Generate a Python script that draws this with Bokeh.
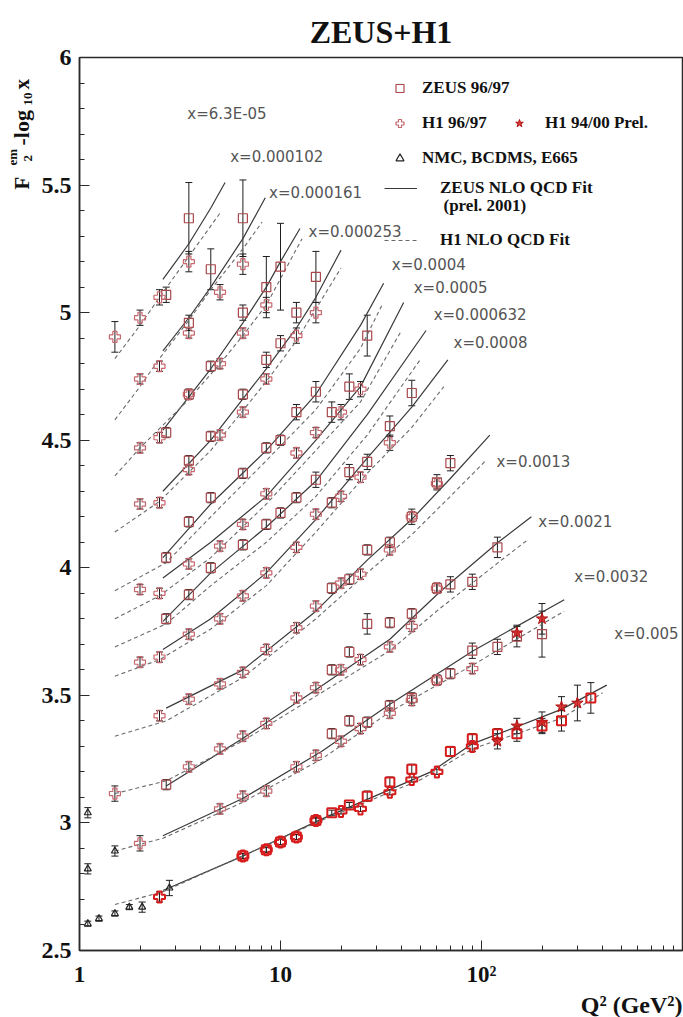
import math
from bokeh.plotting import figure
from bokeh.layouts import row
from bokeh.models import (ColumnDataSource, FixedTicker, Whisker, TeeHead, Label,
                          Legend, LegendItem, Range1d, Title)
from bokeh.embed import file_html
from bokeh.resources import INLINE

# ---------------- data ----------------
bin_labels = ["x=6.3E-05", "x=0.000102", "x=0.000161", "x=0.000253", "x=0.0004", "x=0.0005",
              "x=0.000632", "x=0.0008", "x=0.0013", "x=0.0021", "x=0.0032", "x=0.005"]
label_q2 = [3.44, 5.62, 8.77, 13.8, 35.8, 46.0, 57.8, 72.6, 118.7, 191.8, 289.5, 457]
label_f2 = [5.78, 5.61, 5.47, 5.316, 5.187, 5.097, 4.99, 4.88, 4.416, 4.178, 3.963, 3.74]

# ZEUS 96/97 (per x bin)
zeus_q2 = [
    [2.7, 3.5],
    [3.5, 4.5, 6.5],
    [2.7, 3.5, 4.5, 6.5, 8.5, 10],
    [3.5, 4.5, 6.5, 8.5, 10, 12, 15],
    [2.7, 3.5, 4.5, 6.5, 8.5, 10, 12, 15, 27],
    [18, 22],
    [2.7, 3.5, 4.5, 6.5, 8.5, 10, 12, 15],
    [18, 22, 27, 35, 45],
    [18, 22, 27, 35, 45, 60, 70],
    [2.7, 18, 22, 27, 35, 45, 60, 70, 90, 120],
    [18, 22, 27, 35, 45, 60, 70, 90, 120, 150, 200],
    [6.5, 8.5, 10, 12, 15, 18, 22, 27, 35, 45, 70, 90, 120, 150, 200, 250, 350],
]
zeus_f2 = [
    [5.07, 5.37],
    [4.96, 5.17, 5.37],
    [4.53, 4.68, 4.79, 5.00, 5.10, 5.18],
    [4.42, 4.515, 4.68, 4.815, 4.88, 5.00, 5.14],
    [4.04, 4.18, 4.275, 4.37, 4.47, 4.50, 4.61, 4.69, 4.91],
    [4.61, 4.71],
    [3.80, 3.895, 4.00, 4.09, 4.17, 4.215, 4.275, 4.345],
    [4.255, 4.375, 4.415, 4.555, 4.685],
    [3.92, 3.955, 4.07, 4.10, 4.20, 4.335, 4.41],
    [3.15, 3.60, 3.67, 3.78, 3.785, 3.82, 3.92, 3.935, 3.945, 4.08],
    [3.35, 3.40, 3.395, 3.46, 3.49, 3.56, 3.585, 3.675, 3.69, 3.73, 3.74],
    [2.87, 2.895, 2.925, 2.945, 3.01, 3.04, 3.07, 3.105, 3.16, 3.21, 3.28, 3.33, 3.35, 3.35, 3.38, 3.40, 3.49],
]
zeus_err = [
    [0.03, 0.14],
    [0.03, 0.08, 0.15],
    [0.02, 0.02, 0.02, 0.03, 0.12, 0.17],
    [0.02, 0.02, 0.02, 0.03, 0.03, 0.04, 0.10],
    [0.02, 0.02, 0.02, 0.02, 0.02, 0.02, 0.03, 0.04, 0.08],
    [0.04, 0.05],
    [0.02, 0.02, 0.02, 0.02, 0.02, 0.02, 0.02, 0.03],
    [0.02, 0.03, 0.03, 0.04, 0.05],
    [0.02, 0.02, 0.02, 0.02, 0.03, 0.03, 0.03],
    [0.02, 0.02, 0.02, 0.04, 0.02, 0.02, 0.02, 0.03, 0.03, 0.04],
    [0.02, 0.02, 0.02, 0.02, 0.02, 0.02, 0.02, 0.03, 0.03, 0.04, 0.09],
    [0.01, 0.01, 0.01, 0.01, 0.01, 0.01, 0.01, 0.02, 0.02, 0.02, 0.02, 0.02, 0.02, 0.03, 0.03, 0.04, 0.06],
]

# H1 96/97
h1_q2 = [
    [1.5, 2, 2.5, 3.5],
    [2, 2.5, 3.5, 5, 6.5],
    [2, 2.5, 3.5, 5, 6.5, 8.5],
    [2, 2.5, 3.5, 5, 6.5, 8.5, 12, 15],
    [],
    [2, 2.5, 3.5, 5, 6.5, 8.5, 12, 15, 20, 25],
    [],
    [2, 2.5, 3.5, 5, 6.5, 8.5, 12, 15, 20, 25, 35],
    [2.5, 3.5, 5, 6.5, 8.5, 12, 15, 20, 25, 35, 45, 60],
    [1.5, 3.5, 5, 6.5, 8.5, 12, 15, 20, 25, 35, 45, 60],
    [2, 5, 6.5, 8.5, 12, 15, 20, 25, 35, 45, 60, 90],
    [2.5, 6.5, 8.5, 10, 12, 15, 20, 25, 35, 45, 60, 90],
]
h1_f2 = [
    [4.905, 4.98, 5.06, 5.20],
    [4.74, 4.79, 4.92, 5.08, 5.19],
    [4.47, 4.51, 4.68, 4.80, 4.92, 5.03],
    [4.25, 4.255, 4.385, 4.52, 4.61, 4.74, 4.91, 5.00],
    [],
    [3.915, 3.90, 4.015, 4.085, 4.17, 4.29, 4.45, 4.53, 4.61, 4.70],
    [],
    [3.63, 3.65, 3.74, 3.80, 3.89, 3.98, 4.08, 4.21, 4.28, 4.355, 4.49],
    [3.42, 3.485, 3.545, 3.59, 3.68, 3.765, 3.85, 3.94, 3.975, 4.07, 4.20, 4.33],
    [3.115, 3.22, 3.29, 3.34, 3.39, 3.49, 3.53, 3.60, 3.64, 3.69, 3.77, 3.92],
    [2.92, 3.055, 3.105, 3.125, 3.22, 3.265, 3.32, 3.37, 3.43, 3.48, 3.56, 3.605],
    [2.71, 2.87, 2.895, 2.925, 2.945, 3.01, 3.045, 3.055, 3.12, 3.17, 3.20, 3.30],
]
h1_err = [
    [0.06, 0.03, 0.03, 0.04],
    [0.02, 0.02, 0.02, 0.03, 0.04],
    [0.02] * 5 + [0.03],
    [0.02] * 6 + [0.03, 0.04],
    [],
    [0.02] * 8 + [0.03, 0.03],
    [],
    [0.02] * 10 + [0.03],
    [0.02] * 12,
    [0.03] + [0.02] * 11,
    [0.03] + [0.02] * 11,
    [0.02] + [0.01] * 10 + [0.02],
]

# H1 94/00 Prel. (x=0.0032 and x=0.005)
h1new_q2 = [150, 200, 120, 150, 200, 250, 300]
h1new_f2 = [3.745, 3.80, 3.32, 3.38, 3.395, 3.455, 3.47]
h1new_err = [0.03, 0.06, 0.03, 0.03, 0.04, 0.04, 0.07]

# NMC, BCDMS, E665
nmc_q2 = [1.1, 1.1, 1.5, 1.1, 1.25, 1.5, 1.77, 2.05, 2.8]
nmc_f2 = [3.04, 2.82, 2.89, 2.605, 2.625, 2.645, 2.67, 2.67, 2.745]
nmc_err = [0.02, 0.02, 0.02, 0.01, 0.01, 0.01, 0.01, 0.02, 0.03]

# ZEUS NLO QCD fit (solid) and H1 NLO QCD fit (dashed)
zfit_q2 = [
    [2.6, 3.5, 4.5, 5.3],
    [2.6, 3.5, 4.5, 6.5, 8.4],
    [2.6, 4.5, 6.5, 8.5, 10, 12.5],
    [2.6, 4.5, 8.5, 12, 15, 20],
    [2.6, 4.5, 8.5, 15, 25, 32.6],
    [2.6, 4.5, 8.5, 15, 25, 41],
    [2.6, 4.5, 8.5, 15, 27, 53],
    [2.6, 4.5, 8.5, 15, 27, 45, 68],
    [2.7, 6.5, 15, 27, 45, 70, 110],
    [2.7, 6.45, 15.2, 35, 62, 121, 177],
    [2.6, 6.45, 16, 35, 91, 258],
    [2.6, 6.5, 16, 56, 90, 250, 420],
]
zfit_f2 = [
    [5.13, 5.27, 5.41, 5.51],
    [4.85, 4.98, 5.10, 5.29, 5.45],
    [4.54, 4.78, 4.96, 5.10, 5.20, 5.33],
    [4.30, 4.50, 4.78, 4.94, 5.06, 5.245],
    [4.04, 4.25, 4.46, 4.68, 4.95, 5.115],
    [3.96, 4.10, 4.28, 4.50, 4.71, 5.04],
    [3.79, 3.98, 4.16, 4.34, 4.60, 4.93],
    [3.68, 3.80, 3.98, 4.19, 4.43, 4.63, 4.815],
    [3.45, 3.60, 3.83, 4.03, 4.19, 4.35, 4.52],
    [3.145, 3.33, 3.525, 3.72, 3.905, 4.10, 4.20],
    [2.95, 3.095, 3.28, 3.465, 3.675, 3.875],
    [2.735, 2.87, 3.015, 3.20, 3.31, 3.445, 3.54],
]
hfit_q2 = [
    [1.5, 2, 2.5, 3.5, 5],
    [1.5, 2, 2.5, 3.5, 4.5, 6.5, 8.1],
    [1.5, 2, 3.5, 5, 6.5, 8.5, 12.8],
    [1.5, 2.5, 4.5, 8.5, 12, 20],
    [1.5, 2.7, 4.5, 8.5, 15, 25, 32],
    [1.5, 2.5, 4.5, 8.5, 15, 25, 40],
    [1.5, 2.7, 4.5, 8.5, 15, 27, 50],
    [1.5, 2.5, 4.5, 8.5, 15, 27, 45, 65],
    [1.5, 2.7, 6.5, 15, 27, 45, 70, 105],
    [1.5, 2.7, 6.45, 15.2, 35, 62, 121, 170],
    [1.5, 2.6, 6.45, 16, 35, 91, 258],
    [1.5, 2.6, 16, 50, 90, 250, 400],
]
hfit_f2 = [
    [4.82, 4.95, 5.06, 5.22, 5.39],
    [4.58, 4.71, 4.82, 4.97, 5.09, 5.25, 5.355],
    [4.36, 4.47, 4.66, 4.80, 4.91, 5.03, 5.29],
    [4.14, 4.26, 4.46, 4.73, 4.89, 5.175],
    [3.91, 4.02, 4.20, 4.42, 4.62, 4.86, 5.03],
    [3.80, 3.89, 4.04, 4.25, 4.46, 4.65, 4.93],
    [3.69, 3.78, 3.93, 4.10, 4.28, 4.52, 4.82],
    [3.575, 3.64, 3.76, 3.93, 4.14, 4.37, 4.55, 4.71],
    [3.34, 3.40, 3.57, 3.80, 3.98, 4.13, 4.28, 4.42],
    [3.115, 3.165, 3.32, 3.50, 3.675, 3.84, 4.02, 4.11],
    [2.89, 2.94, 3.08, 3.25, 3.435, 3.62, 3.83],
    [2.68, 2.73, 3.01, 3.17, 3.29, 3.41, 3.51],
]

x_ticks = [1, 10, 100]
x_tick_labels = ["1", "10", "10\u00b2"]
y_ticks = [2.5, 3, 3.5, 4, 4.5, 5, 5.5, 6]
y_tick_labels = ["2.5", "3", "3.5", "4", "4.5", "5", "5.5", "6"]

# ---------------- styles ----------------
SERIF = "Liberation Serif"
ZEUS_COL = "#a9484c"
H1_COL = "#c7686e"
RED = "#d61c1c"
ERR_COL = "#1e1e1e"
STRIP_W = 38


def flatten(qs, ys, es, pick):
    q, y, lo, up = [], [], [], []
    for i, (bq, by, be) in enumerate(zip(qs, ys, es)):
        if not pick(i + 1):
            continue
        for a, b, c in zip(bq, by, be):
            q.append(a); y.append(b); lo.append(b - c); up.append(b + c)
    return ColumnDataSource(dict(q=q, y=y, lo=lo, up=up))


p = figure(width=683 - STRIP_W, height=1017, x_axis_type="log",
           x_range=Range1d(1, 1000), y_range=Range1d(2.5, 6),
           output_backend="svg", toolbar_location=None,
           min_border_left=77 - STRIP_W, min_border_right=1, min_border_top=57,
           min_border_bottom=65)
p.background_fill_color = "white"
p.border_fill_color = "white"
p.grid.visible = False
p.outline_line_color = "#2a2a2a"
p.outline_line_width = 1.5

p.title.text = "ZEUS+H1"
p.title.align = "center"
p.title.text_font = SERIF
p.title.text_font_style = "bold"
p.title.text_font_size = "32px"
p.title.text_color = "#111111"
p.title.standoff = 15

# axes
for ax in (p.xaxis[0], p.yaxis[0]):
    ax.axis_label = None
    ax.axis_line_color = "#2a2a2a"
    ax.axis_line_width = 1.5
    ax.major_tick_in = 10
    ax.major_tick_out = 0
    ax.minor_tick_in = 5
    ax.minor_tick_out = 0
    ax.major_tick_line_color = "#2a2a2a"
    ax.minor_tick_line_color = "#2a2a2a"
    ax.major_label_text_font = SERIF
    ax.major_label_text_font_style = "bold"
    ax.major_label_text_color = "#111111"

minor_x = [m * d for d in (1, 10, 100) for m in range(2, 10)]
p.xaxis[0].ticker = FixedTicker(ticks=x_ticks, minor_ticks=minor_x)
p.xaxis[0].major_label_overrides = {t: s for t, s in zip(x_ticks, x_tick_labels)}
p.xaxis[0].major_label_text_font_size = "23px"
p.xaxis[0].major_label_standoff = 11

minor_y = [round(2.5 + 0.1 * i, 2) for i in range(36)]
p.yaxis[0].ticker = FixedTicker(ticks=y_ticks, minor_ticks=minor_y)
p.yaxis[0].major_label_overrides = {float(t): s for t, s in zip(y_ticks, y_tick_labels)}
p.yaxis[0].major_label_text_font_size = "24px"
p.yaxis[0].major_label_standoff = 8

# x axis title at the lower right, below the tick labels
p.add_layout(Title(text="Q\u00b2 (GeV\u00b2)", align="right", text_font=SERIF,
                   text_font_style="bold", text_font_size="24px",
                   text_color="#111111", standoff=0), "below")

# fit curves
zfit_r = p.multi_line(xs=zfit_q2, ys=zfit_f2, line_color="#3a3a3a", line_width=1.2)
hfit_r = p.multi_line(xs=hfit_q2, ys=hfit_f2, line_color="#6a6a6a", line_width=1.1,
                      line_dash="4 3")


# error bars
def add_err(src, width):
    p.add_layout(Whisker(source=src, base="q", lower="lo", upper="up", dimension="height",
                         line_color=ERR_COL, line_width=width,
                         upper_head=TeeHead(size=7, line_color=ERR_COL, line_width=width),
                         lower_head=TeeHead(size=7, line_color=ERR_COL, line_width=width)))


zeus_main = flatten(zeus_q2, zeus_f2, zeus_err, lambda b: b != 12)
zeus_low = flatten(zeus_q2, zeus_f2, zeus_err, lambda b: b == 12)
h1_main = flatten(h1_q2, h1_f2, h1_err, lambda b: b != 12)
h1_low = flatten(h1_q2, h1_f2, h1_err, lambda b: b == 12)
nmc_src = ColumnDataSource(dict(q=nmc_q2, y=nmc_f2,
                                lo=[a - b for a, b in zip(nmc_f2, nmc_err)],
                                up=[a + b for a, b in zip(nmc_f2, nmc_err)]))
star_src = ColumnDataSource(dict(q=h1new_q2, y=h1new_f2,
                                 lo=[a - b for a, b in zip(h1new_f2, h1new_err)],
                                 up=[a + b for a, b in zip(h1new_f2, h1new_err)]))

for s in (zeus_main, h1_main, nmc_src, zeus_low, h1_low, star_src):
    add_err(s, 1)

zeus_r = p.scatter("q", "y", source=zeus_main, marker="square", size=9, fill_color=None,
                   line_color=ZEUS_COL, line_width=1.2)
h1_r = p.scatter("q", "y", source=h1_main, marker="plus", size=11, fill_color=None,
                 line_color=H1_COL, line_width=1.2)
p.scatter("q", "y", source=zeus_low, marker="square", size=9, fill_color=None,
          line_color=RED, line_width=2)
p.scatter("q", "y", source=h1_low, marker="plus", size=11, fill_color=None,
          line_color=RED, line_width=2)
nmc_r = p.scatter("q", "y", source=nmc_src, marker="triangle", size=7, fill_color=None,
                  line_color="#222222", line_width=1.2)
star_r = p.scatter("q", "y", source=star_src, marker="star", size=12, fill_color=RED,
                   fill_alpha=0.85, line_color="#b01010", line_width=1)

# bin labels
p.text(x=label_q2, y=label_f2, text=bin_labels, text_font_size="15px",
       text_color="#555555", text_baseline="middle", text_align="left",
       text_font={"value": "DejaVu Sans"})


# legends
def mk_legend(items, loc, gw, standoff, spacing):
    lg = Legend(items=items, location=loc, orientation="vertical",
                glyph_width=gw, glyph_height=20, label_height=20, spacing=spacing,
                label_standoff=standoff, padding=0, margin=0,
                border_line_color=None, background_fill_alpha=0,
                label_text_font=SERIF, label_text_font_style="bold",
                label_text_font_size="17px", label_text_color="#111111")
    p.add_layout(lg, "center")


mk_legend([LegendItem(label="ZEUS 96/97", renderers=[zeus_r]),
           LegendItem(label="H1 96/97", renderers=[h1_r]),
           LegendItem(label="NMC, BCDMS, E665", renderers=[nmc_r])],
          (303, 782), 35, 5, 15)
mk_legend([LegendItem(label="H1 94/00 Prel.", renderers=[star_r])],
          (430, 817), 20, 16, 0)
mk_legend([LegendItem(label="ZEUS NLO QCD Fit", renderers=[zfit_r]),
           LegendItem(label="H1 NLO QCD Fit", renderers=[hfit_r])],
          (305, 700), 33, 23, 32)

p.add_layout(Label(x=443 - STRIP_W, y=214, x_units="canvas", y_units="canvas",
                   text="(prel. 2001)", text_font=SERIF, text_font_style="bold",
                   text_font_size="17px", text_color="#111111"))

# ---------------- left strip holding the y axis title ----------------
strip = figure(width=STRIP_W, height=1017, output_backend="svg", toolbar_location=None,
               x_axis_location=None, y_axis_location=None, min_border=0,
               x_range=Range1d(0, 1), y_range=Range1d(0, 1))
strip.grid.visible = False
strip.outline_line_color = None
strip.background_fill_color = "white"
strip.border_fill_color = "white"

A = math.pi / 2


def strip_label(text, x, y, size):
    strip.add_layout(Label(x=x, y=y, x_units="canvas", y_units="canvas", text=text,
                           angle=A, text_align="left", text_baseline="alphabetic",
                           text_font=SERIF, text_font_style="bold",
                           text_font_size=f"{size}px", text_color="#111111"))


strip_label("F", 21, 189, 21)
strip_label("em", 12, 165, 13)
strip_label("2", 27, 161, 13)
strip_label("-log", 21, 145, 22)
strip_label("10", 27, 105, 13)
strip_label("x", 21, 89, 21)

layout = row(strip, p, spacing=0)
open("out.html", "w").write(file_html(layout, INLINE))
